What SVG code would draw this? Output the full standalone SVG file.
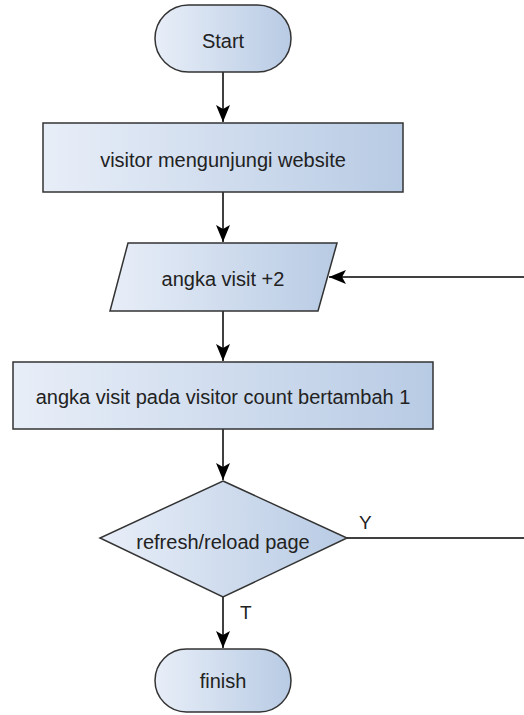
<svg xmlns="http://www.w3.org/2000/svg" width="524" height="715" viewBox="0 0 524 715">
<defs>
<linearGradient id="g" x1="0" y1="0" x2="1" y2="0">
<stop offset="0" stop-color="#e8eef8"/>
<stop offset="1" stop-color="#b8cbe4"/>
</linearGradient>
<marker id="arr" markerUnits="userSpaceOnUse" markerWidth="20" markerHeight="16" viewBox="-18 -8 20 16" refX="0" refY="0" orient="auto">
<path d="M0,0 L-17,-7 L-13,0 L-17,7 Z" fill="#000"/>
</marker>
<style>
.n{fill:url(#g);stroke:#333;stroke-width:1.5}
.t{font-family:"Liberation Sans",Arial,sans-serif;font-size:20px;fill:#222;text-anchor:middle}
.c{fill:none;stroke:#000;stroke-width:1.5}
.l{font-family:"Liberation Sans",Arial,sans-serif;font-size:19px;fill:#222}
</style>
</defs>
<rect width="524" height="715" fill="#fff"/>
<g id="connectors">
<path class="c" d="M223,72 L223,122" marker-end="url(#arr)"/>
<path class="c" d="M223,192 L223,242" marker-end="url(#arr)"/>
<path class="c" d="M223,311 L223,361" marker-end="url(#arr)"/>
<path class="c" d="M223,429 L223,480" marker-end="url(#arr)"/>
<path class="c" d="M223,597 L223,648" marker-end="url(#arr)"/>
<path class="c" d="M347,538 L524,538"/>
<path class="c" d="M524,277 L329,277" marker-end="url(#arr)"/>
<text class="l" x="359" y="529">Y</text>
<text class="l" x="240" y="619">T</text>
</g>
<g id="start">
<rect class="n" x="155" y="5" width="136" height="67" rx="33.5" ry="33.5"/>
<text class="t" x="223" y="48">Start</text>
</g>
<g id="visit">
<rect class="n" x="43" y="123" width="360" height="69"/>
<text class="t" x="223" y="167">visitor mengunjungi website</text>
</g>
<g id="input">
<polygon class="n" points="128,243 337,243 318,311 110,311"/>
<text class="t" x="223" y="286">angka visit +2</text>
</g>
<g id="count">
<rect class="n" x="13" y="362" width="420" height="67"/>
<text class="t" x="223" y="404">angka visit pada visitor count bertambah 1</text>
</g>
<g id="decision">
<polygon class="n" points="223,481 347,538 223,597 100,538"/>
<text class="t" x="223" y="549">refresh/reload page</text>
</g>
<g id="finish">
<rect class="n" x="155" y="649" width="136" height="63" rx="31.5" ry="31.5"/>
<text class="t" x="223" y="688">finish</text>
</g>
</svg>
